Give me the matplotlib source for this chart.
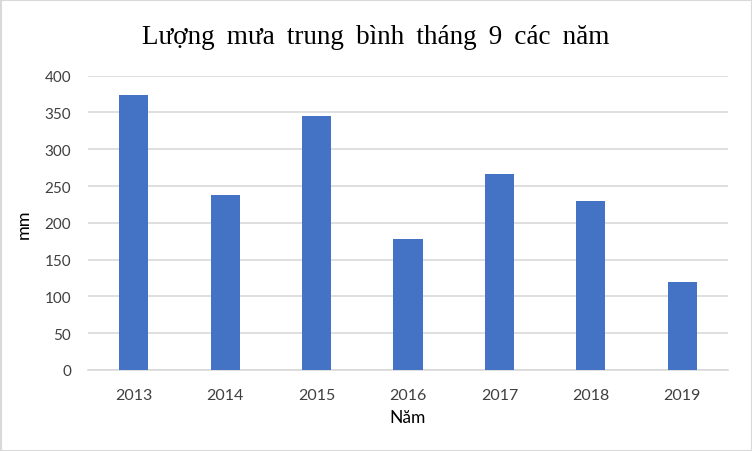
import matplotlib
matplotlib.use("Agg")
import matplotlib.pyplot as plt
from matplotlib.patches import Rectangle

years = ["2013", "2014", "2015", "2016", "2017", "2018", "2019"]
rain_mm = [374, 238, 345, 178, 266, 230, 119]
yticks = [0, 50, 100, 150, 200, 250, 300, 350, 400]
title = "Lượng mưa trung bình tháng 9 các năm"

fig = plt.figure(figsize=(7.52, 4.52), dpi=100)
ax = fig.add_axes([88/752, 1-371/452, 640/752, (371-76.7)/452])

x = range(len(years))
ax.bar(x, rain_mm, width=0.32, color="#4472C4", zorder=3)
ax.set_xlim(-0.5, len(years)-0.5)
ax.set_ylim(0, 400)
ax.set_yticks(yticks)
ax.set_xticks(list(x))
ax.set_xticklabels(years)
ax.grid(axis="y", color="#d9d9d9", linewidth=1.2, zorder=0)
for s in ["top", "right", "left"]:
    ax.spines[s].set_visible(False)
ax.spines["bottom"].set_color("#d9d9d9")
ax.spines["bottom"].set_linewidth(1.2)
ax.tick_params(length=0, labelcolor="#404040")
ax.tick_params(axis="y", labelsize=11, pad=12)
ax.tick_params(axis="x", labelsize=11.5, pad=13)
for lab in ax.get_xticklabels() + ax.get_yticklabels():
    lab.set_family("Lato")
ax.set_ylabel("mm", family="Lato", fontsize=13, color="#000000", labelpad=9)
ax.set_xlabel("Năm", family="Lato", fontsize=12.5, color="#000000", labelpad=5)

fig.text(0.5, 1-37/452, title.replace(" ", " \u2009"),
         ha="center", va="center", family=["Liberation Serif", "DejaVu Serif"], fontsize=19.5)

fig.patches.append(Rectangle((0.5/752, 0.5/452), 1-1/752, 1-1/452, transform=fig.transFigure,
                             fill=False, edgecolor="#d9d9d9", linewidth=1.5))
fig.savefig("out.png", dpi=100)
